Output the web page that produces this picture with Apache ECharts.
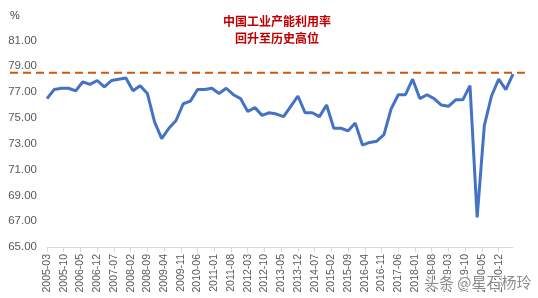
<!DOCTYPE html>
<html>
<head>
<meta charset="utf-8">
<script src="https://cdn.jsdelivr.net/npm/echarts@6/dist/echarts.min.js"></script>
<style>
html,body{margin:0;padding:0;background:#fff;}
#c{width:538px;height:298px;}
</style>
</head>
<body>
<div id="c"></div>
<script>
// Quarter-end months of the observations
var quarters = [
 '2005-03','2005-06','2005-09','2005-12',
 '2006-03','2006-06','2006-09','2006-12',
 '2007-03','2007-06','2007-09','2007-12',
 '2008-03','2008-06','2008-09','2008-12',
 '2009-03','2009-06','2009-09','2009-12',
 '2010-03','2010-06','2010-09','2010-12',
 '2011-03','2011-06','2011-09','2011-12',
 '2012-03','2012-06','2012-09','2012-12',
 '2013-03','2013-06','2013-09','2013-12',
 '2014-03','2014-06','2014-09','2014-12',
 '2015-03','2015-06','2015-09','2015-12',
 '2016-03','2016-06','2016-09','2016-12',
 '2017-03','2017-06','2017-09','2017-12',
 '2018-03','2018-06','2018-09','2018-12',
 '2019-03','2019-06','2019-09','2019-12',
 '2020-03','2020-06','2020-09','2020-12',
 '2021-03','2021-06'
];
// Industrial capacity utilization (%)
var utilization = [
 76.5,77.2,77.3,77.3,
 77.1,77.8,77.6,77.9,
 77.4,77.9,78.0,78.1,
 77.1,77.5,76.9,74.7,
 73.4,74.2,74.8,76.1,
 76.3,77.2,77.2,77.3,
 76.9,77.3,76.8,76.5,
 75.5,75.8,75.2,75.4,
 75.3,75.1,75.9,76.7,
 75.4,75.4,75.1,76.0,
 74.2,74.2,74.0,74.6,
 72.9,73.1,73.2,73.7,
 75.7,76.8,76.8,78.0,
 76.5,76.8,76.5,76.0,
 75.9,76.4,76.4,77.5,
 67.3,74.4,76.7,78.0,
 77.2,78.4
];
var highLevel = 78.5;
var yTicks = {min: 65, max: 81, step: 2};
var axisStart = '2005-03', axisEnd = '2021-06';
var titleLines = ['中国工业产能利用率', '回升至历史高位'];
var unitLabel = '%';
var watermark = '头条 @星石杨玲';

// monthly calendar for the date-like category axis
function monthsBetween(a, b) {
  var out = [];
  var y = +a.slice(0,4), m = +a.slice(5,7);
  var ey = +b.slice(0,4), em = +b.slice(5,7);
  while (y < ey || (y === ey && m <= em)) {
    out.push(y + '-' + (m < 10 ? '0' + m : '' + m));
    m++; if (m > 12) { m = 1; y++; }
  }
  return out;
}
var months = monthsBetween(axisStart, axisEnd);
var seriesData = quarters.map(function (q, i) { return [q, utilization[i]]; });

var chart = echarts.init(document.getElementById('c'), null, {renderer: 'canvas'});
var labelFont = '"Liberation Sans", "DejaVu Sans", sans-serif';
chart.setOption({
  animation: false,
  backgroundColor: '#ffffff',
  grid: {left: 47, right: 25, top: 40.5, bottom: 51, containLabel: false},
  xAxis: {
    type: 'category',
    data: months,
    boundaryGap: false,
    axisLine: {lineStyle: {color: '#d9d9d9', width: 1}},
    axisTick: {show: true, interval: 6, length: 5, lineStyle: {color: '#d9d9d9'}},
    axisLabel: {interval: 6, rotate: 90, margin: 7, color: '#595959', fontSize: 10.5, fontFamily: labelFont},
    splitLine: {show: false}
  },
  yAxis: {
    type: 'value',
    min: yTicks.min, max: yTicks.max, interval: yTicks.step,
    axisLine: {show: false},
    axisTick: {show: false},
    splitLine: {show: false},
    axisLabel: {color: '#595959', fontSize: 11.5, fontFamily: labelFont, margin: 10,
      formatter: function (v) { return v.toFixed(2); }}
  },
  series: [{
    type: 'line',
    data: seriesData,
    showSymbol: false,
    symbol: 'none',
    lineStyle: {color: '#4472c4', width: 3},
    z: 3
  }],
  graphic: [
    {type: 'text', left: 10, top: 10, style: {text: unitLabel, fill: '#404040', font: '11px ' + labelFont}},
    {type: 'text', x: 277, y: 13, style: {text: titleLines.join('\n'), fill: '#c00000', textAlign: 'center',
      font: 'bold 12px "Noto Sans CJK SC", sans-serif', lineHeight: 17}}
  ]
});

// dashed historical-high line spanning the whole drawing
var yHigh = chart.convertToPixel({yAxisIndex: 0}, highLevel);
chart.setOption({
  graphic: [
    {type: 'text', left: 10, top: 10, style: {text: unitLabel, fill: '#404040', font: '11px ' + labelFont}},
    {type: 'text', x: 277, y: 13, style: {text: titleLines.join('\n'), fill: '#c00000', textAlign: 'center',
      font: 'bold 12px "Noto Sans CJK SC", sans-serif', lineHeight: 17}},
    {type: 'line', z: 2, shape: {x1: 10, y1: yHigh, x2: 528, y2: yHigh},
      style: {stroke: '#c55a11', lineWidth: 2, lineDash: [8, 5]}},
    {type: 'text', z: 10, x: 424, y: 275, style: {text: watermark, fill: 'rgba(120,120,120,0.85)',
      stroke: 'rgba(255,255,255,0.9)', lineWidth: 2,
      font: '15px "Noto Sans CJK SC", sans-serif'}}
  ]
});
</script>
</body>
</html>
